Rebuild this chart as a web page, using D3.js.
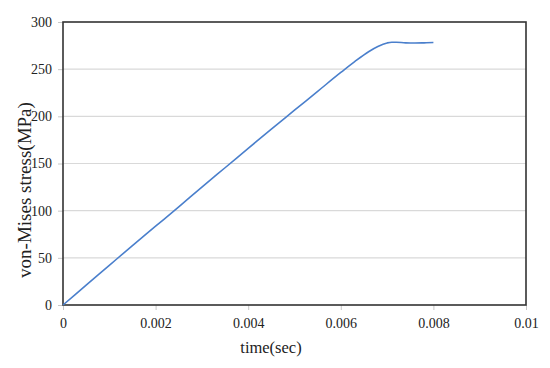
<!DOCTYPE html>
<html>
<head>
<meta charset="utf-8">
<script src="https://cdn.jsdelivr.net/npm/d3@7"></script>
<style>
  body { margin: 0; background: #fff; }
</style>
</head>
<body>
<div id="chart"></div>
<script>
// stress history
const times = [0, 0.0005, 0.001, 0.0015, 0.002, 0.0025, 0.003, 0.0035, 0.004, 0.0045, 0.005, 0.0055, 0.006,
  0.0063, 0.0066, 0.0068, 0.007, 0.0071, 0.0072, 0.0074, 0.0076, 0.0078, 0.008];
const stress = [0, 21, 42, 63, 83.5, 104, 125, 145.5, 166, 186.5, 206.5, 226.5, 246.5,
  258, 268.5, 274, 277.8, 278.6, 278.5, 277.9, 277.7, 277.9, 278.2];
const xTicks = [0, 0.002, 0.004, 0.006, 0.008, 0.01];
const yTicks = [0, 50, 100, 150, 200, 250, 300];

const serif = "'Liberation Serif', 'Times New Roman', serif";

const svgWidth = 550;
const svgHeight = 368;
const margin = { top: 22, right: 24, bottom: 63, left: 63 };
const width = svgWidth - margin.left - margin.right;
const height = svgHeight - margin.top - margin.bottom;

const svg = d3.select("#chart")
  .append("svg")
  .attr("width", svgWidth)
  .attr("height", svgHeight);

const chartGroup = svg.append("g")
  .attr("transform", `translate(${margin.left}, ${margin.top})`);

const x = d3.scaleLinear().domain([0, 0.01]).range([0, width]);
const y = d3.scaleLinear().domain([0, 300]).range([height, 0]);

// gridlines
chartGroup.selectAll(".grid")
  .data(yTicks.filter(d => d > 0 && d < 300))
  .enter()
  .append("line")
  .attr("x1", 0)
  .attr("x2", width)
  .attr("y1", d => y(d))
  .attr("y2", d => y(d))
  .attr("stroke", "#d9d9d9")
  .attr("stroke-width", 1.2);

const xAxis = chartGroup.append("g")
  .attr("transform", `translate(0, ${height})`)
  .call(d3.axisBottom(x).tickValues(xTicks).tickSize(5).tickPadding(8)
    .tickFormat(d => d === 0 ? "0" : String(+d.toFixed(3))));

const yAxis = chartGroup.append("g")
  .call(d3.axisLeft(y).tickValues(yTicks).tickSize(5).tickPadding(6));

[xAxis, yAxis].forEach(a => {
  a.attr("font-family", null).attr("font-size", null);
  a.select(".domain").remove();
  a.selectAll(".tick line").attr("stroke", "#c8c8c8");
  a.selectAll("text")
    .style("font-family", serif)
    .style("font-size", "14px")
    .attr("fill", "#222");
});

// frame
chartGroup.append("rect")
  .attr("width", width)
  .attr("height", height)
  .attr("fill", "none")
  .attr("stroke", "#333")
  .attr("stroke-width", 1.6);

const data = times.map((t, i) => ({ t: t, s: stress[i] }));

chartGroup.append("path")
  .datum(data)
  .attr("fill", "none")
  .attr("stroke", "#4a7fcc")
  .attr("stroke-width", 1.6)
  .attr("d", d3.line()
    .x(d => x(d.t))
    .y(d => y(d.s))
    .curve(d3.curveMonotoneX));

svg.append("text")
  .attr("x", 271)
  .attr("y", 353)
  .attr("text-anchor", "middle")
  .style("font-family", serif)
  .style("font-size", "16.5px")
  .attr("fill", "#222")
  .text("time(sec)");

svg.append("text")
  .attr("transform", "translate(31, 190) rotate(-90)")
  .attr("text-anchor", "middle")
  .style("font-family", serif)
  .style("font-size", "19px")
  .attr("fill", "#222")
  .text("von-Mises stress(MPa)");
</script>
</body>
</html>
